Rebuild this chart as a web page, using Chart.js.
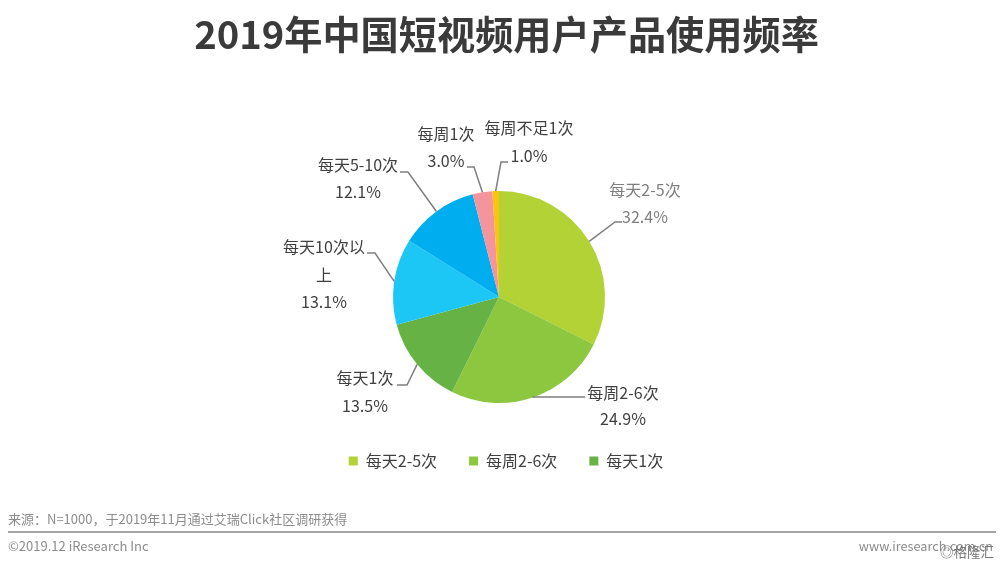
<!DOCTYPE html>
<html lang="zh">
<head>
<meta charset="utf-8">
<title>2019年中国短视频用户产品使用频率</title>
<script src="https://cdn.jsdelivr.net/npm/chart.js@4"></script>
<style>
    html, body { margin: 0; padding: 0; background: #fff; }
    canvas { display: block; }
</style>
</head>
<body>
<canvas id="pieChart" width="1000" height="565"></canvas>
<script>
const categories = ['每天2-5次', '每周2-6次', '每天1次', '每天10次以上', '每天5-10次', '每周1次', '每周不足1次'];
const shares = [32.4, 24.9, 13.5, 13.1, 12.1, 3.0, 1.0];
const legendCategories = ['每天2-5次', '每周2-6次', '每天1次'];
const sliceColors = ['#B2D235', '#8DC63F', '#66B245', '#1CC6F5', '#00AEEF', '#F4949C', '#FFC20E'];

const titleText = '2019年中国短视频用户产品使用频率';
const sourceText = '来源：N=1000，于2019年11月通过艾瑞Click社区调研获得';
const copyrightText = '©2019.12 iResearch Inc';
const siteText = 'www.iresearch.com.cn';
const watermarkText = '◎格隆汇';

const FONT = '"Noto Sans CJK SC", "Noto Sans", sans-serif';

// callout layout per slice: elbow and end of the leader line, centre of the text block
const callouts = [
    { elbow: [615, 222], end: [622, 222], x: 645, y: 190, gap: 27, color: '#7f7f7f' },
    { elbow: [533, 397], end: [585, 397], x: 623, y: 393, gap: 26 },
    { elbow: [407, 385], end: [397, 385], x: 365, y: 378, gap: 28 },
    { elbow: [375, 253], end: [367, 253], x: 324, y: 247, gap: 27.5, lines: ['每天10次以', '上'] },
    { elbow: [408, 172], end: [400, 172], x: 358, y: 165, gap: 27 },
    { elbow: [474, 167], end: [467, 167], x: 446, y: 134, gap: 27 },
    { elbow: [501, 162], end: [508, 162], x: 529, y: 128, gap: 28 }
];

const calloutPlugin = {
    id: 'callouts',
    // the centred boxes sit a little right of the pie in the reference
    afterLayout(chart) {
        chart.titleBlock.left += 7.5;
        chart.titleBlock.right += 7.5;
        chart.legend.left += 7;
        chart.legend.right += 7;
        chart.legend.top += 18;
        chart.legend.bottom += 18;
    },
    afterDraw(chart) {
        const ctx = chart.ctx;
        const arcs = chart.getDatasetMeta(0).data;
        ctx.save();
        ctx.textAlign = 'center';
        ctx.textBaseline = 'middle';
        ctx.font = '16px ' + FONT;
        arcs.forEach((arc, i) => {
            const c = callouts[i];
            const mid = (arc.startAngle + arc.endAngle) / 2;
            ctx.strokeStyle = '#7f7f7f';
            ctx.lineWidth = 1.5;
            ctx.beginPath();
            ctx.moveTo(arc.x + Math.cos(mid) * arc.outerRadius, arc.y + Math.sin(mid) * arc.outerRadius);
            ctx.lineTo(c.elbow[0], c.elbow[1]);
            ctx.lineTo(c.end[0], c.end[1]);
            ctx.stroke();

            const lines = (c.lines || [categories[i]]).concat(shares[i].toFixed(1) + '%');
            ctx.fillStyle = c.color || '#404040';
            lines.forEach((line, n) => ctx.fillText(line, c.x, c.y + n * c.gap));
        });

        // source note and footer
        ctx.textBaseline = 'middle';
        ctx.textAlign = 'left';
        ctx.fillStyle = '#8c8c8c';
        ctx.font = '13px ' + FONT;
        ctx.fillText(sourceText, 8, 519);
        ctx.fillText(copyrightText, 8, 546);
        ctx.textAlign = 'right';
        ctx.font = '12.7px ' + FONT;
        ctx.fillText(siteText, 993, 546);
        ctx.fillStyle = '#777777';
        ctx.font = '13.5px ' + FONT;
        ctx.fillText(watermarkText, 994, 552);
        ctx.strokeStyle = '#a6a6a6';
        ctx.lineWidth = 2;
        ctx.beginPath();
        ctx.moveTo(8, 532);
        ctx.lineTo(996, 532);
        ctx.stroke();
        ctx.restore();
    }
};

new Chart(document.getElementById('pieChart'), {
    type: 'pie',
    data: {
        labels: categories,
        datasets: [{
            data: shares,
            backgroundColor: sliceColors,
            borderWidth: 0
        }]
    },
    options: {
        responsive: false,
        animation: false,
        devicePixelRatio: 1,
        layout: { padding: { left: 0, right: 2, top: 0, bottom: 104 } },
        plugins: {
            title: {
                display: true,
                text: titleText,
                color: '#3a3a3a',
                font: { family: FONT, size: 38.2, weight: 'bold' },
                padding: { top: 12, bottom: 133.2 }
            },
            legend: {
                position: 'bottom',
                labels: {
                    boxWidth: 9,
                    boxHeight: 9,
                    padding: 32,
                    color: '#404040',
                    font: { family: FONT, size: 16 },
                    filter: item => legendCategories.includes(item.text)
                }
            },
            tooltip: { enabled: false }
        }
    },
    plugins: [calloutPlugin]
});
</script>
</body>
</html>
